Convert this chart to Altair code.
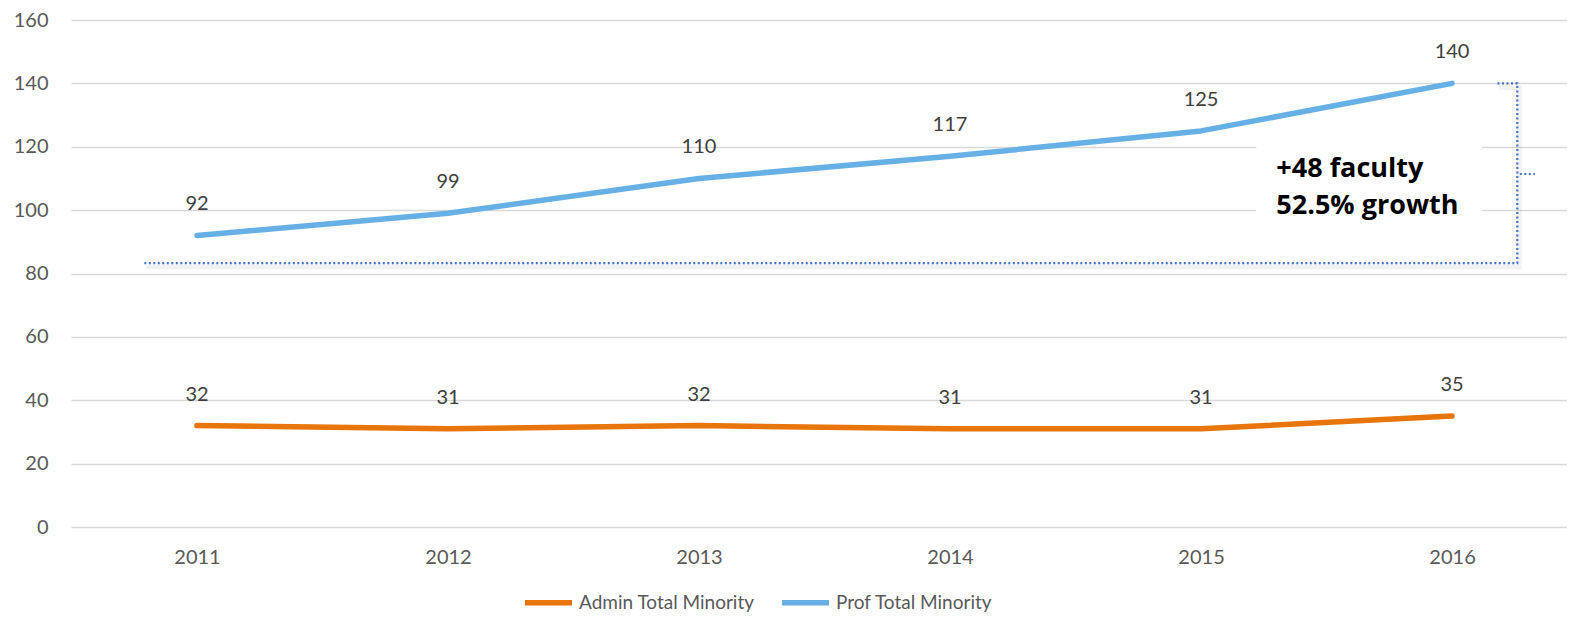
import altair as alt
import pandas as pd

years = [2011, 2012, 2013, 2014, 2015, 2016]
admin = [32, 31, 32, 31, 31, 35]
prof = [92, 99, 110, 117, 125, 140]
series_names = ["Admin Total Minority", "Prof Total Minority"]
series_colors = ["#E8740C", "#66B0E6"]
y_ticks = [0, 20, 40, 60, 80, 100, 120, 140, 160]

# annotation (data units)
note_lines = ["+48 faculty", "52.5% growth"]
note_x = [2015.30, 2015.30]
note_y = [110.4, 98.8]
bracket_x = [2010.79, 2016.26, 2016.26, 2016.18]
bracket_y = [83.3, 83.3, 140.0, 140.0]
brtick_x = [2016.27, 2016.33]
brtick_y = [111.4, 111.4]
box_x = [2015.22, 2016.12]
box_y = [89.0, 125.0]

x_domain = [2010.498, 2016.458]
FONT = "Lato"

df = pd.DataFrame({
    "year": years * 2,
    "value": admin + prof,
    "series": [series_names[0]] * len(years) + [series_names[1]] * len(years),
})
df_bracket = pd.DataFrame({"year": bracket_x, "value": bracket_y, "ord": list(range(len(bracket_x)))})
df_brtick = pd.DataFrame({"year": brtick_x, "value": brtick_y, "ord": [0, 1]})
df_note = pd.DataFrame({"year": note_x, "value": note_y, "label": note_lines})
df_box = pd.DataFrame({"year": [box_x[0]], "year2": [box_x[1]], "value": [box_y[0]], "value2": [box_y[1]]})

xs = alt.Scale(domain=x_domain, nice=False, zero=False)
ys = alt.Scale(domain=[0, 160], nice=False)

x_enc = alt.X("year:Q", scale=xs, axis=alt.Axis(
    values=years, format="d", grid=False, domain=False, ticks=False, title=None,
    labelPadding=20, labelFontSize=20, labelFont=FONT, labelColor="#595959"))
y_enc = alt.Y("value:Q", scale=ys, axis=alt.Axis(
    values=y_ticks, grid=True, gridColor="#D9D9D9", gridWidth=1.3, domain=False,
    ticks=False, title=None, labelPadding=23, labelFontSize=20, labelFont=FONT,
    labelColor="#595959"))

box = alt.Chart(df_box).mark_rect(color="white").encode(
    x=alt.X("year:Q", scale=xs), x2="year2", y=alt.Y("value:Q", scale=ys), y2="value2")

lines = alt.Chart(df).mark_line(strokeWidth=5.5, strokeCap="round", strokeJoin="round").encode(
    x=x_enc, y=y_enc,
    color=alt.Color("series:N", scale=alt.Scale(domain=series_names, range=series_colors),
                    legend=alt.Legend(orient="none", legendX=451, legendY=556, direction="horizontal",
                                      title=None, symbolType="stroke", symbolSize=2209,
                                      symbolStrokeWidth=5.5, labelFontSize=19, labelFont=FONT,
                                      labelColor="#595959", labelOffset=4, columnPadding=16,
                                      labelLimit=400)))

labels = alt.Chart(df).mark_text(dy=-25, baseline="alphabetic", fontSize=20, font=FONT, color="#404040").encode(
    x=alt.X("year:Q", scale=xs), y=alt.Y("value:Q", scale=ys), text="value:Q")

shadow = alt.Chart(df_bracket).mark_line(color="#000000", opacity=0.05, strokeWidth=5, yOffset=4, xOffset=2).encode(
    x=alt.X("year:Q", scale=xs), y=alt.Y("value:Q", scale=ys), order="ord:Q")
bracket = alt.Chart(df_bracket).mark_line(color="#4472C4", strokeDash=[2, 2.5], strokeWidth=2.2).encode(
    x=alt.X("year:Q", scale=xs), y=alt.Y("value:Q", scale=ys), order="ord:Q")
brtick = alt.Chart(df_brtick).mark_line(color="#4472C4", strokeDash=[2, 2.5], strokeWidth=2.2).encode(
    x=alt.X("year:Q", scale=xs), y=alt.Y("value:Q", scale=ys), order="ord:Q")

note = alt.Chart(df_note).mark_text(align="left", baseline="alphabetic", fontSize=27, fontWeight="bold",
                                    font="Open Sans", color="#000000").encode(
    x=alt.X("year:Q", scale=xs), y=alt.Y("value:Q", scale=ys), text="label:N")

chart = alt.layer(box, shadow, bracket, brtick, lines, labels, note).properties(
    width=1496, height=507,
    autosize=alt.AutoSizeParams(type="none"),
    padding={"left": 63, "top": 12, "right": 0, "bottom": 90},
).configure_view(stroke=None)

chart.save("out.html", embed_options={"renderer": "svg", "actions": False})
